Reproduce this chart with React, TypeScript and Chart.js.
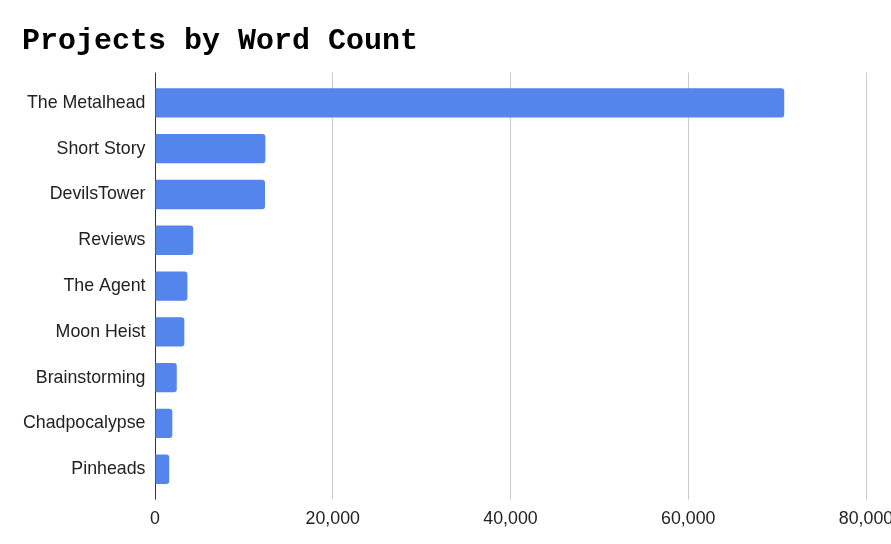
import React, { useEffect, useRef } from "react";
import { Chart, registerables } from "chart.js";

Chart.register(...registerables);

const TITLE = "Projects by Word Count";
const categories = [
  "The Metalhead",
  "Short Story",
  "DevilsTower",
  "Reviews",
  "The Agent",
  "Moon Heist",
  "Brainstorming",
  "Chadpocalypse",
  "Pinheads",
];
const wordCounts = [70800, 12420, 12380, 4300, 3650, 3300, 2450, 1950, 1600];
const xMin = 0;
const xMax = 80000;
const xStep = 20000;

const gridColor = (ctx: any) =>
  ctx.tick && ctx.tick.value === 0 ? "#333333" : "#cccccc";

export default function App() {
  const ref = useRef<HTMLCanvasElement | null>(null);

  useEffect(() => {
    if (!ref.current) return;
    const chart = new Chart(ref.current, {
      type: "bar",
      data: {
        labels: categories,
        datasets: [
          {
            label: "Word Count",
            data: wordCounts,
            backgroundColor: "#5385ec",
            borderRadius: 3,
            barPercentage: 0.64,
            categoryPercentage: 1,
          },
        ],
      },
      options: {
        indexAxis: "y",
        animation: false,
        responsive: true,
        maintainAspectRatio: false,
        layout: { padding: { left: 22, right: 54, top: 0, bottom: 5.4 } },
        plugins: {
          legend: { display: false },
          tooltip: { enabled: false },
          title: {
            display: true,
            text: TITLE,
            align: "start",
            color: "#000000",
            font: { family: "'Liberation Mono', 'Courier New', monospace", size: 30, weight: "bold", lineHeight: 1.2 },
            padding: { top: 23, bottom: 13.5 },
          },
        },
        scales: {
          x: {
            type: "linear",
            position: "bottom",
            min: xMin,
            max: xMax,
            border: { display: false },
            grid: { color: gridColor, drawTicks: true, tickLength: 7.5, lineWidth: 1 },
            ticks: {
              stepSize: xStep,
              padding: 8.8,
              color: "#222222",
              font: { family: "'Liberation Sans', Arial, sans-serif", size: 17.8 },
              callback: (v: any) => Number(v).toLocaleString("en-US"),
            },
          },
          x2: {
            type: "linear",
            position: "top",
            min: xMin,
            max: xMax,
            border: { display: false },
            grid: { color: gridColor, drawOnChartArea: false, drawTicks: true, tickLength: 7.5 },
            ticks: { display: false, stepSize: xStep },
          },
          y: {
            type: "category",
            border: { display: false },
            grid: { display: false, drawTicks: false, tickLength: 0 },
            afterFit: (scale: any) => {
              scale.width = 133;
            },
            ticks: {
              padding: 9.5,
              color: "#222222",
              font: { family: "'Liberation Sans', Arial, sans-serif", size: 17.8 },
            },
          },
        },
      },
    });
    return () => chart.destroy();
  }, []);

  return (
    <div style={{ position: "fixed", left: 0, top: 0, width: 891, height: 544, overflow: "hidden", background: "#fff" }}>
      <div style={{ position: "relative", width: 920, height: 544 }}>
        <canvas ref={ref} />
      </div>
    </div>
  );
}
